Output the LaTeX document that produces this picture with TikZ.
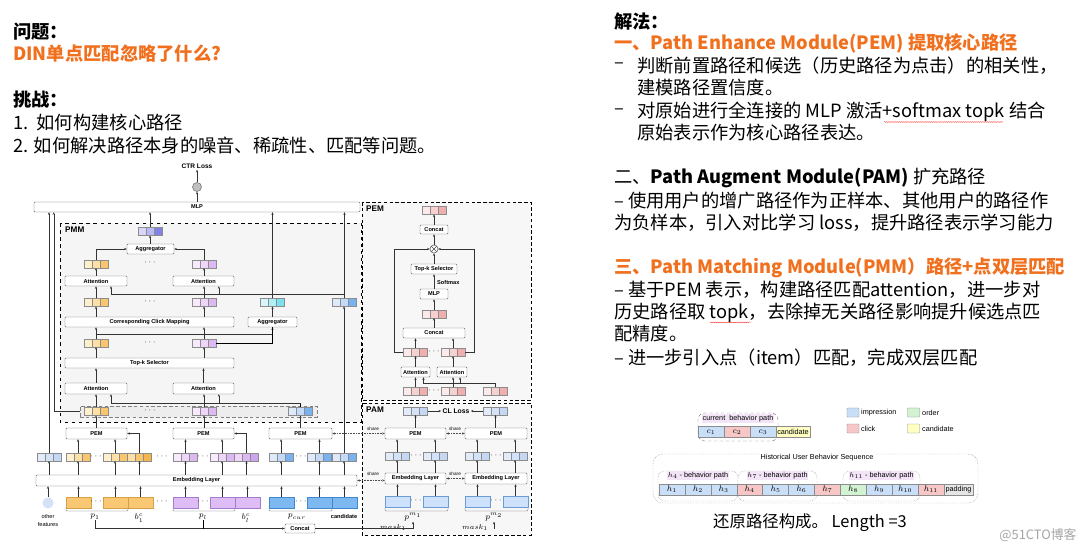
\documentclass[tikz,border=0pt]{standalone}
\usepackage{fontspec}
\setmainfont{Noto Sans CJK SC}
\newfontfamily\dfam{Liberation Sans}
\usetikzlibrary{arrows.meta,decorations.pathmorphing}

\definecolor{orgc}{RGB}{240,112,30}
\definecolor{o1}{RGB}{254,240,205}
\definecolor{o2}{RGB}{252,224,165}
\definecolor{o3}{RGB}{249,198,110}
\definecolor{o4}{RGB}{244,180,80}
\definecolor{u1}{RGB}{248,234,252}
\definecolor{u2}{RGB}{238,214,248}
\definecolor{u3}{RGB}{220,185,242}
\definecolor{u4}{RGB}{205,165,238}
\definecolor{bl1}{RGB}{222,233,250}
\definecolor{bl2}{RGB}{196,218,247}
\definecolor{bl3}{RGB}{120,178,240}
\definecolor{l1}{RGB}{225,235,250}
\definecolor{l2}{RGB}{212,226,248}
\definecolor{l3}{RGB}{196,216,246}
\definecolor{cy1}{RGB}{214,246,250}
\definecolor{cy2}{RGB}{178,238,246}
\definecolor{cy3}{RGB}{125,224,238}
\definecolor{k1}{RGB}{215,215,248}
\definecolor{k2}{RGB}{185,185,244}
\definecolor{k3}{RGB}{130,130,230}
\definecolor{m1}{RGB}{252,234,234}
\definecolor{m2}{RGB}{247,208,208}
\definecolor{m3}{RGB}{240,175,175}
\definecolor{obarc}{RGB}{250,200,115}
\definecolor{obard}{RGB}{215,160,70}
\definecolor{ubarc}{RGB}{222,188,245}
\definecolor{ubard}{RGB}{165,125,205}
\definecolor{bbarc}{RGB}{125,185,240}
\definecolor{bbard}{RGB}{65,135,205}
\definecolor{lbarc}{RGB}{205,225,250}
\definecolor{lbard}{RGB}{105,155,215}
\definecolor{imp}{RGB}{201,222,247}
\definecolor{clk}{RGB}{247,198,198}
\definecolor{ord}{RGB}{210,242,210}
\definecolor{cand}{RGB}{255,255,194}
\definecolor{padc}{RGB}{230,230,230}
\definecolor{lav}{RGB}{243,228,248}

\newcommand\mytxt{\fontsize{15.6pt}{18pt}\selectfont}
\newcommand\dgfont{\dfam\bfseries\fontsize{4.8pt}{5.5pt}\selectfont}
\newcommand\lgfont{\dfam\fontsize{6.2pt}{7pt}\selectfont}
\newcommand\mlab{\fontsize{7pt}{8pt}\selectfont}

\tikzset{
  vec/.style n args={3}{draw=black!45, line width=0.3pt, inner sep=0pt,
    minimum width=7.2mm, minimum height=2.3mm,
    path picture={
      \path[fill=#1] (path picture bounding box.south west) rectangle ++(2.4mm,2.3mm);
      \path[fill=#2] ([xshift=2.4mm]path picture bounding box.south west) rectangle ++(2.4mm,2.3mm);
      \path[fill=#3] ([xshift=4.8mm]path picture bounding box.south west) rectangle ++(2.4mm,2.3mm);
      \draw[black!45, line width=0.3pt]
        ([xshift=2.4mm]path picture bounding box.south west) -- ++(0,2.3mm)
        ([xshift=4.8mm]path picture bounding box.south west) -- ++(0,2.3mm);}},
  ovec/.style={vec={o1}{o2}{o3}},
  ovecb/.style={vec={o2}{o3}{o4}},
  uvec/.style={vec={u1}{u2}{u3}},
  uvecb/.style={vec={u2}{u3}{u4}},
  bvec/.style={vec={bl1}{bl2}{bl3}},
  lvec/.style={vec={l1}{l2}{l3}},
  cvec/.style={vec={cy1}{cy2}{cy3}},
  kvec/.style={vec={k1}{k2}{k3}},
  mvec/.style={vec={m1}{m2}{m3}},
  blk/.style={draw=black!60, fill=white, rounded corners=0.8pt, inner sep=0pt,
    font=\dgfont, line width=0.4pt},
  wh/.style 2 args={minimum width=#1*0.3mm, minimum height=#2*0.3mm},
  bar/.style 2 args={fill=#1, draw=#2, line width=0.4pt, inner sep=0pt,
    minimum width=7.5mm, minimum height=3.3mm},
  arr/.style={-{Stealth[length=2.2pt,width=1.8pt]}, line width=0.35pt, black!80},
  sharearr/.style={densely dotted, {Stealth[length=2.2pt,width=1.8pt]}-{Stealth[length=2.2pt,width=1.8pt]},
    line width=0.35pt, black!70},
  dotn/.style={font=\fontsize{7pt}{8pt}\selectfont, inner sep=0pt},
  sharelab/.style={font=\dfam\fontsize{4pt}{4.5pt}\selectfont, inner sep=0pt},
  txt/.style={anchor=west, inner sep=0pt, font=\mytxt},
  cell/.style={draw=black!45, line width=0.3pt, inner sep=0pt,
    minimum width=25.9*0.3mm, minimum height=11*0.3mm, font=\mlab},
  ptag/.style={fill=lav, inner sep=0.7pt, font=\lgfont},
  lg/.style={draw=black!45, line width=0.3pt, rounded corners=0.5pt, inner sep=0pt,
    minimum width=12*0.3mm, minimum height=9*0.3mm},
}

\begin{document}
\begin{tikzpicture}[x=0.3mm, y=-0.3mm]
  \fill[white] (0,0) rectangle (1080,551);
  \useasboundingbox (0,0) rectangle (1080,551);

  % slide text, left
  \node[txt, font=\mytxt\bfseries] (t1) at (13,32) {问题：};
  \node[txt, font=\mytxt\bfseries, text=orgc] (t2) at (13,54) {DIN单点匹配忽略了什么?};
  \node[txt, font=\mytxt\bfseries] (t3) at (13,100) {挑战：};
  \node[txt] (t4) at (13,123) {1.\ \ 如何构建核心路径};
  \node[txt] (t5) at (13,146) {2. 如何解决路径本身的噪音、稀疏性、匹配等问题。};

  % slide text, right
  \node[txt, font=\mytxt\bfseries] (s1) at (614,22) {解法：};
  \node[txt, font=\mytxt\bfseries, text=orgc] (s2) at (614,43) {一、Path Enhance Module(PEM) 提取核心路径};
  \node[txt] (s3a) at (614,66) {–};
  \node[txt] (s3) at (637,66) {判断前置路径和候选（历史路径为点击）的相关性，};
  \node[txt] (s4) at (637,88) {建模路径置信度。};
  \node[txt] (s5a) at (614,112) {–};
  \node[txt] (s5) at (637,112) {对原始进行全连接的 MLP 激活+softmax topk 结合};
  \node[txt] (s6) at (637,133) {原始表示作为核心路径表达。};
  \node[txt] (s7) at (614,178) {二、\textbf{Path Augment Module(PAM)} 扩充路径};
  \node[txt] (s8) at (614,201) {– 使用用户的增广路径作为正样本、其他用户的路径作};
  \node[txt] (s9) at (614,223) {为负样本，引入对比学习 loss，提升路径表示学习能力};
  \node[txt, font=\mytxt\bfseries, text=orgc] (s10) at (614,268) {三、Path Matching Module(PMM）路径+点双层匹配};
  \node[txt] (s11) at (614,290) {– 基于PEM 表示，构建路径匹配attention，进一步对};
  \node[txt] (s12) at (614,313) {历史路径取 topk，去除掉无关路径影响提升候选点匹};
  \node[txt] (s13) at (614,334) {配精度。};
  \node[txt] (s14) at (614,358) {– 进一步引入点（item）匹配，完成双层匹配};
  \draw[red!80, line width=0.3pt, decorate, decoration={snake, amplitude=0.35pt, segment length=1.6pt}]
    (884,122) -- (1002,122) (710,322) -- (751,322);

  % module regions
  \draw[dashed, line width=0.7pt, fill=black!4] (60,223) rectangle (361,422);
  \draw[densely dashed, line width=0.5pt, fill=black!3] (362,202) rectangle (531,400);
  \draw[densely dashed, line width=0.5pt, fill=black!3] (362,403) rectangle (531,535);
  \node[anchor=west, inner sep=0pt, font=\dfam\bfseries\fontsize{7pt}{8pt}\selectfont] (lpmm) at (65,230) {PMM};
  \node[anchor=west, inner sep=0pt, font=\dfam\bfseries\fontsize{7pt}{8pt}\selectfont] (lpem) at (366,209) {PEM};
  \node[anchor=west, inner sep=0pt, font=\dfam\bfseries\fontsize{7pt}{8pt}\selectfont] (lpam) at (366,410) {PAM};

  % top
  \node[blk, wh={326}{10}] (mlp) at (197,207) {MLP};
  \node[circle, draw=black!60, fill=black!25, minimum size=2.7mm, inner sep=0pt] (sig) at (197,187) {};
  \node[font=\dfam\bfseries\fontsize{5.6pt}{6pt}\selectfont, inner sep=1pt] (ctr) at (197,166) {CTR Loss};

  % PMM
  \node[kvec] (vtop) at (150,231.5) {};
  \node[blk, wh={47}{10}] (agg1) at (150.5,249) {Aggregator};
  \node[ovec] (vo1) at (96,264) {};
  \node[uvec] (vp1) at (204,264) {};
  \node[blk, wh={62}{10}] (att1) at (96,281) {Attention};
  \node[blk, wh={61}{10}] (att2) at (203.5,281) {Attention};
  \node[ovec] (vo2) at (96,302.5) {};
  \node[uvec] (vp2) at (204,302.5) {};
  \node[cvec] (vc2) at (272.5,302.5) {};
  \node[bvec] (vb2) at (344.5,302.5) {};
  \node[blk, wh={169}{10}] (ccm) at (149.5,322) {Corresponding Click Mapping};
  \node[blk, wh={49}{10}] (agg2) at (272.5,322) {Aggregator};
  \node[ovec] (vo3) at (96,343) {};
  \node[uvec] (vp3) at (204,343) {};
  \node[blk, wh={169}{10}] (topk) at (149.5,363) {Top-k Selector};
  \node[blk, wh={62}{11}] (att3) at (96,388.5) {Attention};
  \node[blk, wh={61}{11}] (att4) at (203.5,388.5) {Attention};
  \node[draw=black!50, densely dashed, fill=black!7, inner sep=0pt, wh={237}{11}] (sel) at (198.5,411.5) {};
  \node[ovec] (vo4) at (96,411.5) {};
  \node[uvec] (vp4) at (204,411.5) {};
  \node[bvec] (vb4) at (300.5,411.5) {};
  \foreach \y [count=\i] in {263,302,343,411}
    \node[dotn] (dm\i) at (150,\y) {$\cdots$};

  % PEM row, embeddings, inputs
  \node[blk, wh={61}{11}] (pem1) at (96.5,433.5) {PEM};
  \node[blk, wh={61}{11}] (pem2) at (203.5,433.5) {PEM};
  \node[blk, wh={63}{11}] (pem3) at (300.5,433.5) {PEM};
  \node[lvec] (e1) at (49,457) {};
  \node[ovec] (e2) at (78,457) {};
  \node[ovec] (e3) at (115,457) {};
  \node[ovecb] (e4) at (139.5,457) {};
  \node[uvec] (e5) at (185.5,457) {};
  \node[uvec] (e6) at (222,457) {};
  \node[uvecb] (e7) at (246.5,457) {};
  \node[bvec] (e8) at (281,457) {};
  \node[bvec] (e9) at (319.5,457) {};
  \node[bvec] (e10) at (344,457) {};
  \node[blk, wh={321}{11}] (emb) at (196.5,480.5) {Embedding Layer};
  \node[circle, fill=l2, minimum size=3.3mm, inner sep=0pt] (r1) at (48,503) {};
  \node[bar={obarc}{obard}] (r2) at (78.5,502.5) {};
  \node[bar={obarc}{obard}] (r3) at (115.5,502.5) {};
  \node[bar={obarc}{obard}] (r4) at (140.5,502.5) {};
  \node[bar={ubarc}{ubard}] (r5) at (185.5,502.5) {};
  \node[bar={ubarc}{ubard}] (r6) at (222.5,502.5) {};
  \node[bar={ubarc}{ubard}] (r7) at (247.5,502.5) {};
  \node[bar={bbarc}{bbard}] (r8) at (281.5,502.5) {};
  \node[bar={bbarc}{bbard}] (r9) at (319.5,502.5) {};
  \node[bar={bbarc}{bbard}] (r10) at (344.5,502.5) {};
  \foreach \x [count=\i] in {96,162,203,301} {
    \node[dotn] (de\i) at (\x,457) {$\cdots$};
    \node[dotn] (dr\i) at (\x,502) {$\cdots$};
  }
  \foreach \a/\b in {66/128,173/235,269/332,385/448,465/528}
    \draw[black!60, line width=0.35pt, rounded corners=1pt] (\a,508) -- (\a,511) -- (\b,511) -- (\b,508);
  \node[font=\mlab, inner sep=0.5pt] (lp1) at (95,517) {$p_1$};
  \node[font=\mlab, inner sep=0.5pt] (lb1) at (139,518) {$b^{c}_{1}$};
  \node[font=\mlab, inner sep=0.5pt] (lpl) at (203,517) {$p_l$};
  \node[font=\mlab, inner sep=0.5pt] (lbl) at (246,518) {$b^{c}_{l}$};
  \node[font=\mlab, inner sep=0.5pt] (lpc) at (297,517) {$p_{cur}$};
  \node[font=\dgfont, inner sep=0.5pt] (lcand) at (344,516) {candidate};
  \node[font=\dfam\fontsize{4.8pt}{6.5pt}\selectfont, align=center, inner sep=0pt] (lof) at (48,520.5) {other\\features};
  \node[blk, wh={30}{9}] (conc) at (300,528.5) {Concat};

  % PEM module
  \node[mvec] (pv0) at (434,210.5) {};
  \node[blk, wh={28}{9}] (pc1) at (434,229.5) {Concat};
  \node[circle, draw=black!70, fill=white, minimum size=2.4mm, inner sep=0pt,
    path picture={\draw[black!70, line width=0.35pt]
      (path picture bounding box.north west) -- (path picture bounding box.south east)
      (path picture bounding box.south west) -- (path picture bounding box.north east);}] (ox) at (434,249) {};
  \node[blk, wh={46}{10}] (ptk) at (434,269) {Top-k Selector};
  \node[blk, wh={28}{10}] (pmlp) at (434,294) {MLP};
  \node[mvec] (pv1) at (434,314) {};
  \node[blk, wh={62}{10}] (pc2) at (434,333) {Concat};
  \node[mvec] (pv2) at (415.5,352) {};
  \node[mvec] (pv3) at (453,352) {};
  \node[blk, wh={29}{10}] (pa1) at (415.5,372) {Attention};
  \node[blk, wh={30}{10}] (pa2) at (452,372) {Attention};
  \node[mvec] (pv4) at (415.5,391.5) {};
  \node[mvec] (pv5) at (453,391.5) {};
  \node[mvec] (pv6) at (495.5,391.5) {};
  \node[dotn] (dp1) at (434,352) {$\cdots$};
  \node[dotn] (dp2) at (434,391) {$\cdots$};
  \node[font=\dgfont, anchor=west, inner sep=0pt] (lsm) at (437,282) {Softmax};

  % PAM module
  \node[lvec] (av1) at (415.5,411) {};
  \node[lvec] (av2) at (495.5,411) {};
  \node[font=\dfam\bfseries\fontsize{5.8pt}{6pt}\selectfont, inner sep=1pt] (cl) at (456,411) {CL Loss};
  \node[blk, wh={61}{11}] (ap1) at (415.5,433.5) {PEM};
  \node[blk, wh={62}{11}] (ap2) at (496,433.5) {PEM};
  \node[lvec] (ae1) at (397,456) {};
  \node[lvec] (ae2) at (435,456) {};
  \node[lvec] (ae3) at (477,456) {};
  \node[lvec] (ae4) at (515,456) {};
  \node[blk, wh={61}{11}] (am1) at (415.5,478.5) {Embedding Layer};
  \node[blk, wh={62}{11}] (am2) at (496,478.5) {Embedding Layer};
  \node[bar={lbarc}{lbard}] (ar1) at (397.5,501.5) {};
  \node[bar={lbarc}{lbard}] (ar2) at (435.5,501.5) {};
  \node[bar={lbarc}{lbard}] (ar3) at (477.5,501.5) {};
  \node[bar={lbarc}{lbard}] (ar4) at (515.5,501.5) {};
  \foreach \x [count=\i] in {416,496} {
    \node[dotn] (da\i) at (\x,456) {$\cdots$};
    \node[dotn] (db\i) at (\x,501) {$\cdots$};
  }
  \node[font=\mlab, inner sep=0.5pt] (pm1) at (413,517) {$p^{m_1}$};
  \node[font=\mlab, inner sep=0.5pt] (pm2) at (494,517) {$p^{m_2}$};
  \node[font=\fontsize{6pt}{7pt}\selectfont, inner sep=0pt] (mk1) at (393,527.5) {$mask_1$};
  \node[font=\fontsize{6pt}{7pt}\selectfont, inner sep=0pt] (mk2) at (475,527.5) {$mask_1$};
  \node[sharelab] (sh1) at (373,429) {share};
  \node[sharelab] (sh2) at (455,429) {share};
  \node[sharelab] (sh3) at (373,474) {share};
  \node[sharelab] (sh4) at (455,474) {share};

  % connectors
  \draw[arr] (mlp.north) -- (sig.south);
  \draw[arr] (sig.north) -- (ctr.south);
  \foreach \a/\b in {vtop/mlp,vc2/mlp,vb2/mlp,e1/mlp,vo2/att1,vp2/att2,vo3/ccm,vp3/ccm,
                     att3/topk,att4/topk,vo4/att3,vp4/att4,e2/pem1,e3/pem1,e5/pem2,e6/pem2,
                     e8/pem3,e9/pem3,e10/vb2,r1/emb,r2/emb,r3/emb,r4/emb,r5/emb,r6/emb,
                     r7/emb,r8/emb,r9/emb,r10/emb,pv2/pc2,pv3/pc2,pv4/pa1,pv5/pa2,
                     ae1/ap1,ae2/ap1,ae3/ap2,ae4/ap2,ar1/am1,ar2/am1,ar3/am2,ar4/am2}
    \draw[arr] (\a.north) -- (\a.north |- \b.south);
  \foreach \a/\b in {agg1/vtop,att1/vo1,att2/vp1,ccm/vo2,ccm/vp2,agg2/vc2,topk/vo3,topk/vp3,
                     pem1/vo4,pem2/vp4,pem3/vb4,pc1/pv0,ox/pc1,ptk/ox,pmlp/ptk,pv1/pmlp,pc2/pv1,
                     pa1/pv2,pa2/pv3,ap1/av1,ap2/av2}
    \draw[arr] (\b.south |- \a.north) -- (\b.south);
  \foreach \e in {e1,e2,e3,e4,e5,e6,e7,e8,e9,e10}
    \draw[arr] (\e.south |- emb.north) -- (\e.south);
  \foreach \e/\m in {ae1/am1,ae2/am1,ae3/am2,ae4/am2}
    \draw[arr] (\e.south |- \m.north) -- (\e.south);
  \draw[arr] (vo1.north) |- (agg1.west);
  \draw[arr] (vp1.north) |- (agg1.east);
  \draw[arr] (e4.north) |- (pem1.east);
  \draw[arr] (e7.north) |- (pem2.east);

  % candidate feeds both attention pairs
  \coordinate (in1) at ([xshift=4.5mm]att1.south);
  \coordinate (in2) at ([xshift=4.6mm]att2.south);
  \coordinate (in3) at ([xshift=4.5mm]att3.south);
  \coordinate (in4) at ([xshift=4.6mm]att4.south);
  \path (vb2.north |- 0,294) coordinate (j1);
  \path (vb4.north |- 0,403) coordinate (j2);
  \draw[arr] (j1) -| (in1);
  \draw[arr] (in2 |- j1) -- (in2);
  \draw (vb4.north) -- (j2);
  \draw[arr] (j2) -| (in3);
  \draw[arr] (in4 |- j2) -- (in4);

  % click mapping to aggregator
  \draw[arr] (vo3.north) -- ++(0,-5) -| (agg2.south);
  \draw (vp3.east) -| (agg2.south);

  % selected paths to MLP
  \coordinate (min) at ([xshift=6mm]mlp.south west);
  \draw[arr] (sel.west) -| (min);

  % PEM loops
  \draw[arr] (pv2.west) -- ++(-9,0) |- (ox.west);
  \draw[arr] (pv3.east) -- ++(9,0) |- (ox.east);
  \coordinate (pin1) at ([xshift=2.4mm]pa1.south);
  \coordinate (pin2) at ([xshift=2.4mm]pa2.south);
  \draw[arr] (pv6.north) -- ++(0,-4) -| (pin1);
  \draw[arr] (pin2 |- 0,384) -- (pin2);

  % PAM
  \draw[arr] (av1.east) -- (cl.west);
  \draw[arr] (av2.west) -- (cl.east);
  \draw[sharearr] (pem3.east) -- (ap1.west);
  \draw[sharearr] (ap1.east) -- (ap2.west);
  \draw[sharearr] (emb.east) -- (emb.east -| am1.west);
  \draw[sharearr] (am1.east) -- (am2.west);

  % concat of paths
  \draw[arr] (lp1.south) |- (conc.west);
  \draw (lpl.south) -- (lpl.south |- conc.west);
  \draw[arr] (conc.east) -| (pm1.south);
  \draw[arr] (pm2.south |- conc.east) -- (pm2.south);

  % behaviour path sketch
  \node[lg, fill=imp] (gi) at (853,412.5) {};
  \node[lg, fill=ord] (go) at (913.5,412.5) {};
  \node[lg, fill=clk] (gc) at (853,428.5) {};
  \node[lg, fill=cand] (gd) at (913.5,428.5) {};
  \node[anchor=west, font=\lgfont, inner sep=0pt] (ti) at (861,412.5) {impression};
  \node[anchor=west, font=\lgfont, inner sep=0pt] (to) at (922,412.5) {order};
  \node[anchor=west, font=\lgfont, inner sep=0pt] (tc) at (861,428.5) {click};
  \node[anchor=west, font=\lgfont, inner sep=0pt] (td) at (922,428.5) {candidate};

  \node[draw=black!50, densely dashed, rounded corners=2mm, inner sep=0pt, wh={80}{28}] (curbox) at (738,427) {};
  \node[ptag] (curtag) at (738,418.5) {current\ \ behavior path};
  \node[cell, fill=imp] (c1) at (711,432) {$c_1$};
  \node[cell, fill=clk] (c2) at (737,432) {$c_2$};
  \node[cell, fill=imp] (c3) at (763,432) {$c_3$};
  \node[cell, fill=cand, minimum width=34*0.3mm, font=\lgfont] (cc) at (793,432) {candidate};

  \node[draw=black!50, densely dotted, rounded corners=3mm, inner sep=0pt, wh={325}{49}] (hist) at (815.5,478.5) {};
  \node[fill=white, font=\lgfont, inner sep=1pt] (histtag) at (817,457.5) {Historical User Behavior Sequence};
  \node[draw=black!50, densely dotted, rounded corners=2mm, inner sep=0pt, wh={80}{30}] (hb1) at (698,486) {};
  \node[draw=black!50, densely dotted, rounded corners=2mm, inner sep=0pt, wh={79}{30}] (hb2) at (777.5,486) {};
  \node[draw=black!50, densely dotted, rounded corners=2mm, inner sep=0pt, wh={77}{30}] (hb3) at (881.5,486) {};
  \node[ptag] (ht1) at (698,475.5) {$h_4$ - behavior path};
  \node[ptag] (ht2) at (777.5,475.5) {$h_7$ - behavior path};
  \node[ptag] (ht3) at (881.5,475.5) {$h_{11}$ - behavior path};
  \foreach \n/\c [count=\k from 0] in {1/imp,2/imp,3/imp,4/clk,5/imp,6/imp,7/clk,8/ord,9/imp,10/imp,11/clk}
    \node[cell, fill=\c] (h\n) at ({671.95+25.9*\k},489.5) {$h_{\n}$};
  \node[cell, fill=padc, minimum width=29*0.3mm, font=\lgfont] (pad) at (958.5,489.5) {padding};

  \node[font=\fontsize{14pt}{16pt}\selectfont, inner sep=0pt] (rec) at (810,523) {还原路径构成。 Length =3};
  \node[font=\fontsize{11pt}{12pt}\selectfont, text=black!35, inner sep=0pt] (wm) at (1038,535) {@51CTO博客};
\end{tikzpicture}
\end{document}
